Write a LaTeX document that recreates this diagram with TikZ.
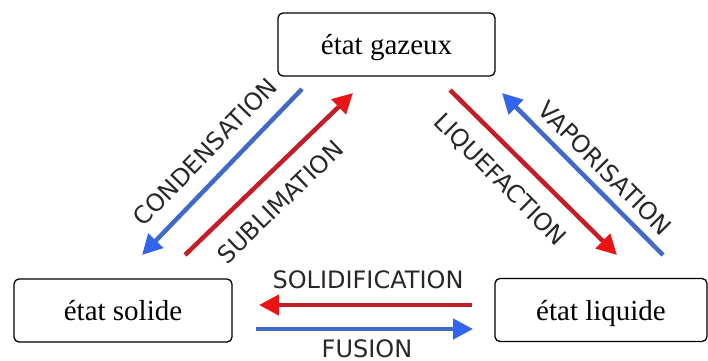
\documentclass[tikz,border=0pt]{standalone}
\usepackage{fontspec}
\setmainfont{Liberation Serif}
\newfontfamily\labelfont{DejaVu Sans}
\usetikzlibrary{arrows.meta}
\definecolor{rouge}{RGB}{195,30,40}
\definecolor{rougevif}{RGB}{235,20,20}
\definecolor{bleu}{RGB}{65,105,200}
\definecolor{bleuvif}{RGB}{50,100,240}
\definecolor{texte}{RGB}{40,40,40}

\begin{document}
\begin{tikzpicture}[
        x=1pt,y=-1pt,
        etat/.style={draw,line width=1.3pt,rounded corners=5pt,minimum height=63pt,
          inner sep=0pt,text depth=0pt,font=\fontsize{29}{29}\selectfont},
        fleche rouge/.style={rouge,line width=4.5pt,-{Triangle[length=20pt,width=20pt,color=rougevif]}},
        fleche bleue/.style={bleu,line width=4.5pt,-{Triangle[length=20pt,width=20pt,color=bleuvif]}},
        nom/.style={texte,inner sep=0pt,font=\labelfont\fontsize{24}{24}\selectfont}
      ]
      \useasboundingbox (0,0) rectangle (708,360);
      \node (gaz) [etat,minimum width=217pt] at (386.5,44.5) {état gazeux};
      \node (sol) [etat,minimum width=218pt] at (123,310.5) {état solide};
      \node (liq) [etat,minimum width=212pt] at (601,310) {état liquide};
      \coordinate (c1) at (302,89);
      \coordinate (c2) at (142,255);
      \coordinate (s1) at (185,255);
      \coordinate (s2) at (353,93);
      \coordinate (l1) at (450,90);
      \coordinate (l2) at (617,255);
      \coordinate (v1) at (663,255);
      \coordinate (v2) at (502,93);
      \coordinate (so1) at (472,305);
      \coordinate (so2) at (259,305);
      \coordinate (f1) at (256,329);
      \coordinate (f2) at (473,329);
      \draw[fleche bleue] (c1) -- (c2);
      \draw[fleche rouge] (s1) -- (s2);
      \draw[fleche rouge] (l1) -- (l2);
      \draw[fleche bleue] (v1) -- (v2);
      \draw[fleche rouge] (so1) -- (so2);
      \draw[fleche bleue] (f1) -- (f2);
      \node (cond) [nom,rotate=46] at (205,152) {CONDENSATION};
      \node (subl) [nom,rotate=44] at (280,202) {SUBLIMATION};
      \node (liqf) [nom,rotate=-45] at (500,180) {LIQUEFACTION};
      \node (vapo) [nom,rotate=-45] at (605,168) {VAPORISATION};
      \node (soli) [nom] at (368,280) {SOLIDIFICATION};
      \node (fusi) [nom] at (367,348.5) {FUSION};
    \end{tikzpicture}
\end{document}
